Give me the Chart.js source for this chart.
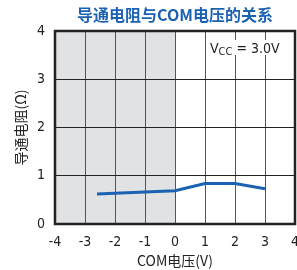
<!DOCTYPE html>
<html>
<head>
<meta charset="utf-8">
<script src="https://cdn.jsdelivr.net/npm/chart.js@4/dist/chart.umd.min.js"></script>
<style>
  html, body { margin: 0; padding: 0; background: #fff; }
  #wrap { width: 297px; height: 270px; position: relative; }
</style>
</head>
<body>
<div id="wrap"><canvas id="grafico"></canvas></div>
<script>
// datos
const comVoltaje = [-2.6, 0, 1, 2, 3];
const resistencia = [0.62, 0.69, 0.84, 0.84, 0.73];
const titulo = '导通电阻与COM电压的关系';
const tituloX = 'COM电压(V)';
const tituloY = '导通电阻(Ω)';
const zonaGris = [-4, 0];

const fuenteNarrow = "'Liberation Sans Narrow', 'DejaVu Sans Condensed', 'Arial Narrow', sans-serif";
const azul = '#1b62b3';

// fondo gris y texto extra
const decoracion = {
    id: 'decoracion',
    beforeDraw(chart) {
        const c = chart.ctx, a = chart.chartArea, x = chart.scales.x;
        c.save();
        c.fillStyle = '#e1e2e4';
        const x0 = x.getPixelForValue(zonaGris[0]);
        const x1 = x.getPixelForValue(zonaGris[1]);
        c.fillRect(x0, a.top, x1 - x0, a.bottom - a.top);
        c.restore();
    },
    afterDatasetsDraw(chart) {
        const c = chart.ctx, a = chart.chartArea;
        c.save();
        // marco
        c.strokeStyle = '#222';
        c.lineWidth = 2.5;
        c.strokeRect(a.left, a.top, a.right - a.left, a.bottom - a.top);

        // caja VCC
        c.fillStyle = '#fff';
        c.fillRect(209, 40, 70, 15);
        c.fillStyle = '#222';
        c.textBaseline = 'alphabetic';
        c.textAlign = 'left';
        c.font = '14px ' + fuenteNarrow;
        let px = 210;
        c.fillText('V', px, 53);
        px += c.measureText('V').width;
        c.font = '11px ' + fuenteNarrow;
        c.fillText('CC', px, 55);
        px += c.measureText('CC').width;
        c.font = '14px ' + fuenteNarrow;
        c.fillText(' = 3.0V', px, 53);

        // título
        c.fillStyle = azul;
        c.textAlign = 'center';
        c.textBaseline = 'middle';
        c.font = "bold 16px 'Noto Sans CJK SC', sans-serif";
        c.fillText(titulo, 175, 15);
        c.restore();
    }
};

new Chart(document.getElementById('grafico'), {
    type: 'line',
    data: {
        datasets: [{
            data: comVoltaje.map((v, i) => ({ x: v, y: resistencia[i] })),
            borderColor: azul,
            borderWidth: 3,
            pointRadius: 0,
            tension: 0,
            fill: false
        }]
    },
    options: {
        responsive: true,
        maintainAspectRatio: false,
        animation: false,
        events: [],
        layout: { padding: { top: 31, right: 2, left: 0, bottom: 0 } },
        plugins: { legend: { display: false }, tooltip: { enabled: false }, title: { display: false } },
        scales: {
            x: {
                type: 'linear',
                min: -4, max: 4,
                ticks: { stepSize: 1, color: '#222', padding: 10, font: { family: fuenteNarrow, size: 14 } },
                grid: { color: '#555', lineWidth: 1, drawTicks: false },
                border: { display: false },
                title: { display: true, text: tituloX, color: '#222', padding: { top: 0, bottom: 1 },
                         font: { family: "'Liberation Sans Narrow', 'Noto Sans CJK SC', sans-serif", size: 14 } },
                afterFit(s) { s.height = 46; s.paddingLeft = 0; s.paddingRight = 0; }
            },
            y: {
                min: 0, max: 4,
                ticks: { stepSize: 1, color: '#222', padding: 10, font: { family: fuenteNarrow, size: 14 } },
                grid: { color: '#222', lineWidth: 1, drawTicks: false },
                border: { display: false },
                title: { display: true, text: tituloY, color: '#222', padding: { top: 12, bottom: 0 },
                         font: { family: "'Noto Sans CJK SC', sans-serif", size: 14 } },
                afterFit(s) { s.width = 55; s.paddingTop = 0; s.paddingBottom = 0; }
            }
        }
    },
    plugins: [decoracion]
});
</script>
</body>
</html>
